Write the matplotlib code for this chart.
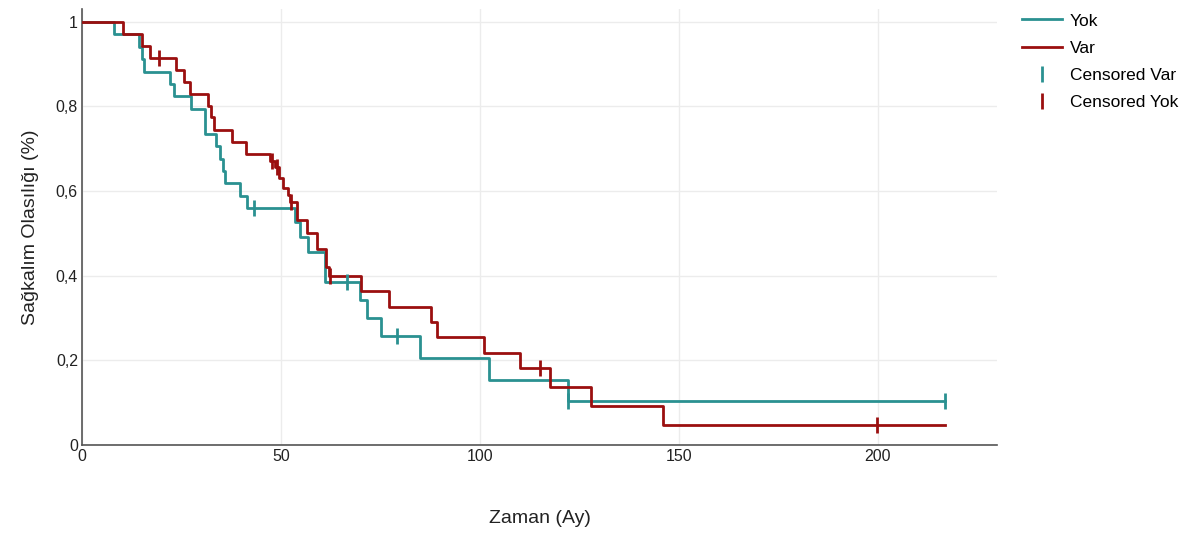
import matplotlib
matplotlib.use("Agg")
import matplotlib.pyplot as plt
from matplotlib.ticker import FuncFormatter

plt.rcParams["font.family"] = ["Liberation Sans", "DejaVu Sans"]

# Kaplan-Meier basamaklari (zaman, sagkalim)
yok_t = [0, 7.9, 14.4, 15.0, 15.6, 22.0, 23.0, 27.4, 30.8, 33.7, 34.6, 35.5, 36.0,
         39.6, 41.4, 53.6, 54.7, 56.7, 61.1, 69.9, 71.6, 75.0, 84.8, 102.3, 122.1, 216.9]
yok_s = [1, 0.971, 0.941, 0.912, 0.882, 0.853, 0.824, 0.794, 0.735, 0.706, 0.676, 0.647, 0.618,
         0.588, 0.559, 0.527, 0.491, 0.456, 0.386, 0.343, 0.300, 0.257, 0.205, 0.154, 0.103, 0.103]
yok_cens_t = [43.1, 66.6, 79.2, 122.1, 216.9]
yok_cens_s = [0.559, 0.386, 0.257, 0.103, 0.103]

var_t = [0, 10.4, 15.0, 17.1, 23.6, 25.7, 27.2, 31.6, 32.5, 33.1, 37.7, 41.3, 47.3, 48.4,
         49.4, 50.5, 51.7, 52.3, 54.0, 56.5, 59.0, 61.4, 62.0, 70.0, 77.1, 87.8, 89.2, 101.0,
         110.0, 117.7, 127.8, 146.1, 217.0]
var_s = [1, 0.970, 0.943, 0.915, 0.886, 0.858, 0.829, 0.802, 0.774, 0.745, 0.716, 0.688, 0.672, 0.656,
         0.630, 0.606, 0.590, 0.575, 0.531, 0.500, 0.464, 0.420, 0.400, 0.364, 0.327, 0.291, 0.254, 0.218,
         0.181, 0.136, 0.091, 0.046, 0.046]
var_cens_t = [19.2, 47.8, 48.9, 52.6, 62.3, 115.0, 199.9]
var_cens_s = [0.915, 0.672, 0.656, 0.575, 0.400, 0.181, 0.046]

TEAL = "#2a9191"
RED = "#9b0f0f"

fig = plt.figure(figsize=(11.9, 5.36), dpi=100)
ax = fig.add_axes([0.069, 0.170, 0.769, 0.813])

ax.step(yok_t, yok_s, where="post", color=TEAL, lw=2.0, label="Yok", zorder=3)
ax.step(var_t, var_s, where="post", color=RED, lw=2.0, label="Var", zorder=3)
ax.plot(yok_cens_t, yok_cens_s, ls="none", marker="|", ms=12, mew=2.0, color=TEAL,
        label="Censored Var", zorder=4)
ax.plot(var_cens_t, var_cens_s, ls="none", marker="|", ms=12, mew=2.0, color=RED,
        label="Censored Yok", zorder=4)

ax.set_xlim(0, 230)
ax.set_ylim(0, 1.03)
ax.set_xticks([0, 50, 100, 150, 200])
ax.set_yticks([0, 0.2, 0.4, 0.6, 0.8, 1.0])
ax.yaxis.set_major_formatter(FuncFormatter(lambda v, p: "%g" % v if v in (0, 1) else ("%.1f" % v).replace(".", ",")))
ax.grid(True, color="#ececec", lw=1.0, zorder=0)
ax.tick_params(length=0, labelsize=11.5, colors="#222222", pad=3)
for s in ("top", "right"):
    ax.spines[s].set_visible(False)
for s in ("left", "bottom"):
    ax.spines[s].set_color("#555555")
    ax.spines[s].set_linewidth(1.2)

ax.set_xlabel("Zaman (Ay)", fontsize=14, labelpad=33, color="#222222")
ax.set_ylabel("Sağkalım Olasılığı (%)", fontsize=14, labelpad=12, color="#222222")

fig.legend(loc="upper left", bbox_to_anchor=(0.853, 0.988), frameon=False, fontsize=12.5,
           handlelength=2.3, handletextpad=0.45, labelspacing=0.7, borderaxespad=0)

fig.savefig("out.png", dpi=100)
